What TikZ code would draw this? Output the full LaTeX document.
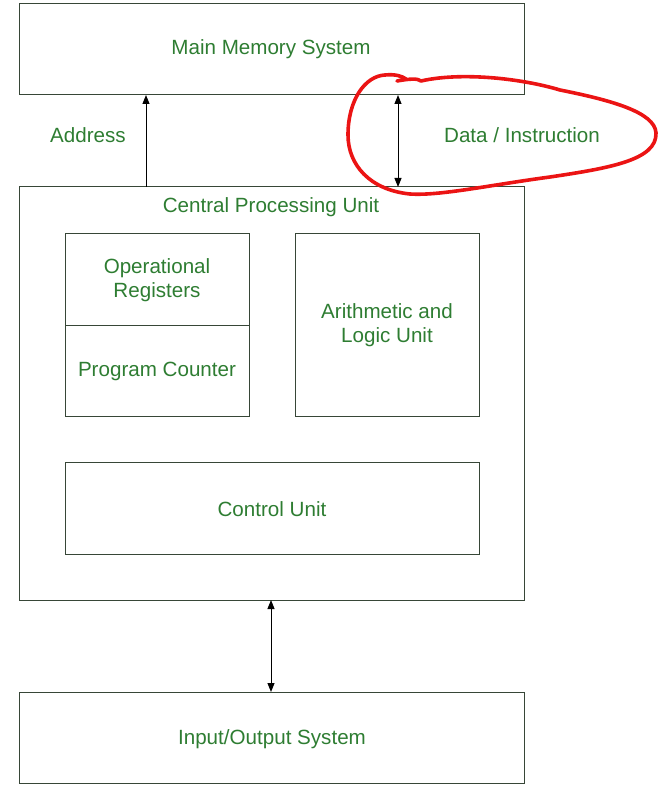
\documentclass[tikz,border=0pt]{standalone}
\usepackage{fontspec}
\setmainfont{Liberation Sans}
\usetikzlibrary{arrows.meta}
\definecolor{txtgreen}{RGB}{46,125,50}
\definecolor{boxline}{RGB}{55,70,55}
\definecolor{redmark}{RGB}{235,20,20}
\begin{document}
\begin{tikzpicture}[x=1pt,y=-1pt,
  box/.style={draw=boxline,line width=1pt},
  lbl/.style={text=txtgreen,font=\fontsize{20.6}{24}\selectfont,align=center},
  conn/.style={draw=black,line width=1pt,-{Triangle[length=9pt,width=7pt]}},
  dconn/.style={draw=black,line width=1pt,{Triangle[length=9pt,width=7pt]}-{Triangle[length=9pt,width=7pt]}}]
\useasboundingbox (0,0) rectangle (665,786);
% boxes
\draw[box] (19,4) rectangle (524,95);
\node[lbl] (mm) at (271,49) {Main Memory System};
\draw[box] (19,187) rectangle (524,600);
\node[lbl] (cpu) at (271,207) {Central Processing Unit};
\draw[box] (65,233) rectangle (249,416);
\draw[box] (65,325) -- (249,325);
\node[lbl] (opreg) at (157,280) {Operational\\Registers};
\node[lbl] (pc) at (157,371) {Program Counter};
\draw[box] (295,233) rectangle (479,416);
\node[lbl] (alu) at (387,325) {Arithmetic and\\Logic Unit};
\draw[box] (65,462) rectangle (479,554);
\node[lbl] (cu) at (272,509) {Control Unit};
\draw[box] (19,692) rectangle (524,783);
\node[lbl] (io) at (272,739) {Input/Output System};
% connectors
\coordinate (a1) at (146,187);
\coordinate (a2) at (146,95);
\draw[conn] (a1) -- (a2);
\node[lbl] (addr) at (88,135) {Address};
\coordinate (d1) at (398,95);
\coordinate (d2) at (398,187);
\draw[dconn] (d1) -- (d2);
\node[lbl] (data) at (522,135) {Data / Instruction};
\coordinate (i1) at (271,600);
\coordinate (i2) at (271,692);
\draw[dconn] (i1) -- (i2);
% red freehand loop
\draw[redmark,line width=3.6pt,line cap=round,line join=round]
  (397,81) .. controls (408,79) and (418,78) .. (421,81)
  .. controls (460,72) and (520,78) .. (560,90)
  .. controls (610,100) and (655,112) .. (656,133)
  .. controls (657,160) and (610,168) .. (550,177)
  .. controls (490,185) and (440,196) .. (410,194)
  .. controls (370,190) and (348,165) .. (348,135)
  .. controls (348,100) and (365,76) .. (385,75)
  .. controls (395,74) and (402,76) .. (406,79);
\end{tikzpicture}
\end{document}
